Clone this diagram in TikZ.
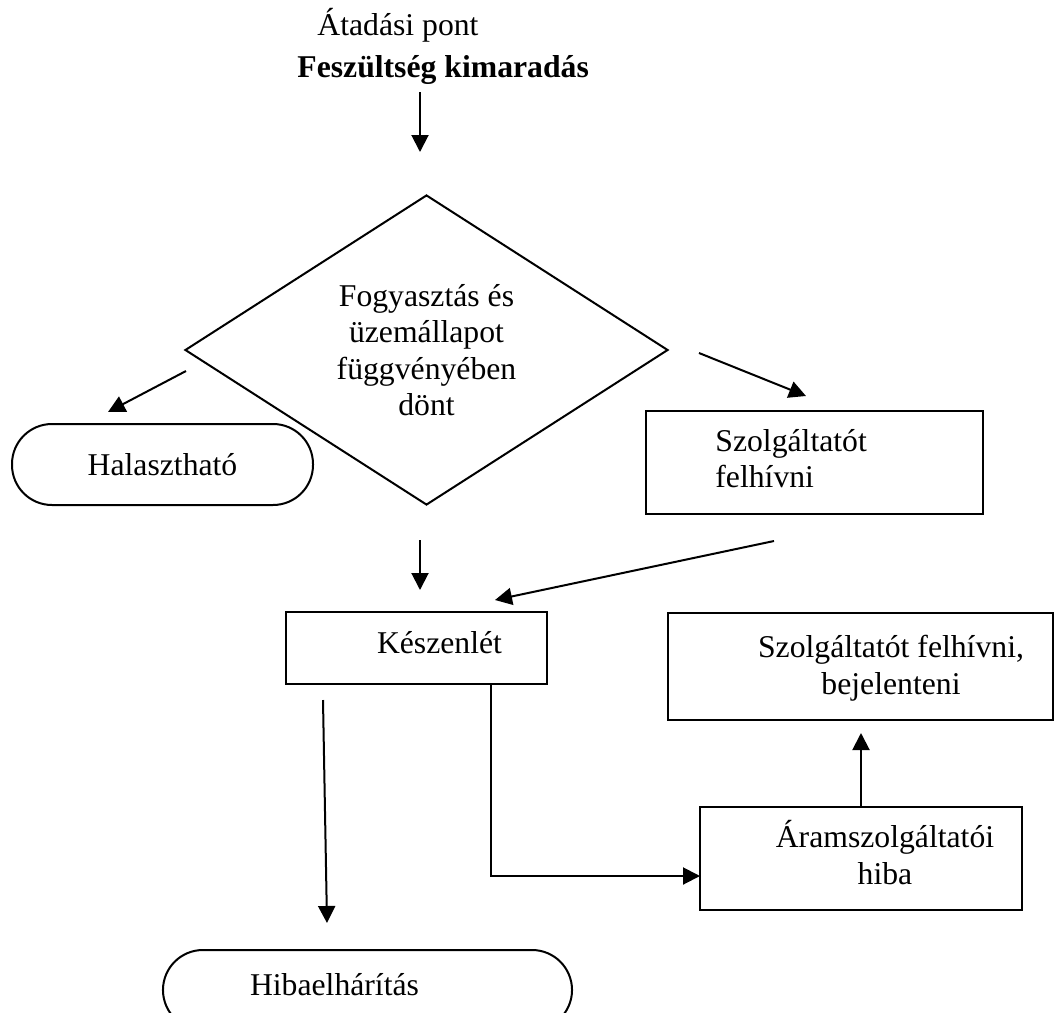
\documentclass[tikz,border=0pt]{standalone}
\usepackage{fontspec}
\setmainfont{Liberation Serif}
\usetikzlibrary{arrows.meta,shapes.geometric}
\begin{document}
\begin{tikzpicture}[x=0.5pt,y=-0.5pt,
  every node/.style={font=\fontsize{15.85pt}{18.25pt}\selectfont, inner sep=0pt},
  arr/.style={line width=1pt, -{Triangle[length=8.5pt,width=8.5pt]}},
  boxnode/.style={draw, line width=1pt, rectangle},
  term/.style={draw, line width=1pt, rounded corners=20pt},
]
\useasboundingbox (0,0) rectangle (1056,1013);
\clip (0,0) rectangle (1056,1013);

% title
\node[anchor=base west] (t1) at (317,35) {Átadási pont};
\node[anchor=base west, font=\fontsize{15.85pt}{18.25pt}\selectfont\bfseries] (t2) at (297,77) {Feszültség kimaradás};
\coordinate (a1s) at (420,92);
\coordinate (a1e) at (420,152);
\draw[arr] (a1s) -- (a1e);

% decision
\node[diamond, draw, line width=1pt, aspect=1.56, minimum width=483*0.5pt, minimum height=310*0.5pt, align=center] (dec) at (426.5,350)
  {Fogyasztás és\\üzemállapot\\függvényében\\dönt};

% Halasztható
\node[term, minimum width=301*0.5pt, minimum height=81*0.5pt] (hal) at (162.5,464.5) {Halasztható};
\coordinate (h1) at (186,371);
\coordinate (h2) at (108,412);
\draw[arr] (h1) -- (h2);

% Szolgáltatót felhívni
\node[boxnode, minimum width=337*0.5pt, minimum height=103*0.5pt] (sz) at (814.5,462.5) {};
\node[anchor=north west, align=left] (sztxt) at (715,429) {Szolgáltatót\\felhívni};
\coordinate (s1) at (699,353);
\coordinate (s2) at (806,396);
\draw[arr] (s1) -- (s2);

% Készenlét
\node[boxnode, minimum width=261*0.5pt, minimum height=72*0.5pt] (kes) at (416.5,648) {};
\node[anchor=base] (kestxt) at (439.5,653) {Készenlét};
\coordinate (k1) at (420,540);
\coordinate (k2) at (420,590);
\draw[arr] (k1) -- (k2);
\coordinate (k3) at (774,541);
\coordinate (k4) at (495,600);
\draw[arr] (k3) -- (k4);

% Szolgáltatót felhívni, bejelenteni
\node[boxnode, minimum width=385*0.5pt, minimum height=107*0.5pt] (bej) at (860.5,666.5) {};
\node[anchor=north, align=center] (bejtxt) at (891,635) {Szolgáltatót felhívni,\\bejelenteni};

% Áramszolgáltatói hiba
\node[boxnode, minimum width=322*0.5pt, minimum height=103*0.5pt] (ar) at (861,858.5) {};
\node[anchor=north, align=center] (artxt) at (885,820) {Áramszolgáltatói\\hiba};
\coordinate (u2) at (861,733);
\draw[arr] (ar.north) -- (u2);

% elbow Készenlét -> Áramszolgáltatói hiba
\coordinate (e0) at (491,684);
\coordinate (e1) at (700,876);
\draw[arr] (e0) |- (e1);

% Hibaelhárítás
\begin{scope}[shift={(367.5,990)}]
\node[term, xscale=1.35, transform shape, minimum width=303*0.5pt, minimum height=80*0.5pt] (hib) at (0,0) {};
\end{scope}
\node[anchor=base] (hibtxt) at (334.5,995) {Hibaelhárítás};
\coordinate (l1) at (323,700);
\coordinate (l2) at (327,923);
\draw[arr] (l1) -- (l2);
\end{tikzpicture}
\end{document}
